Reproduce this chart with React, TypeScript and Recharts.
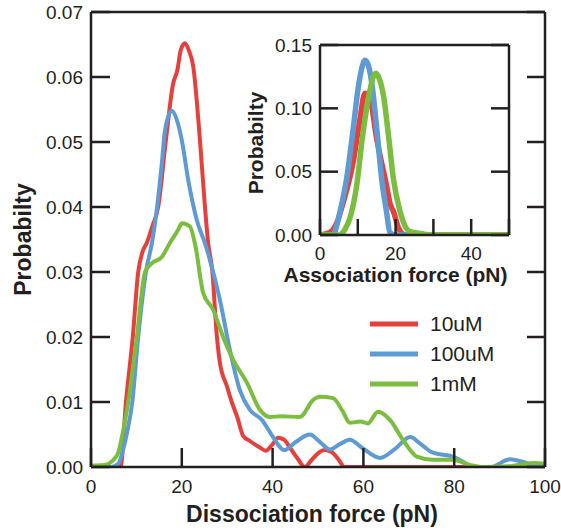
import { LineChart, Line, XAxis, YAxis, Legend } from 'recharts'

const FONT = '"Liberation Sans", Arial, sans-serif'
const INK = '#231f20'

const RED = '#e6403d'
const BLUE = '#5e9bd4'
const GREEN = '#7bbd3f'

const seriesNames = ['10uM', '100uM', '1mM']

// main panel: dissociation force distributions
const force10uM = [0, 4, 6.5, 7.7, 9.2, 10.4, 11.3, 12.3, 13.5, 14.8, 16.5, 18.1, 19, 19.8, 20.7, 21.6, 22.5, 24, 25.1, 25.8, 26.7, 27.7, 28.4, 29.9, 31, 32.3, 33.5, 35, 37.2, 38.5, 40, 41.2, 42.5, 43.8, 45.5, 47.1, 48.5, 50, 51.5, 53, 54.5, 55.8, 60, 70, 80, 90, 100]
const prob10uM = [0, 0, 0, 0.01, 0.02, 0.03, 0.033, 0.0345, 0.037, 0.04, 0.0503, 0.059, 0.061, 0.0642, 0.0652, 0.064, 0.0617, 0.0503, 0.04, 0.0345, 0.0303, 0.0203, 0.016, 0.0125, 0.01, 0.0075, 0.0048, 0.004, 0.003, 0.0025, 0.0035, 0.0045, 0.0042, 0.003, 0.0013, 0, 0.001, 0.0021, 0.0026, 0.0023, 0.0012, 0, 0, 0, 0, 0, 0]

const force100uM = [0, 4.5, 6, 7, 8, 9.1, 10.4, 12.1, 13.4, 14.1, 15.6, 16.3, 17.8, 18.9, 20, 21.4, 23.3, 25.2, 28.4, 30.6, 32.8, 35, 37.7, 40.1, 42.5, 45, 48.2, 50.5, 52.6, 55, 57, 60, 63.7, 67, 70.3, 72.5, 75.3, 79.7, 82, 84, 88, 92.3, 95, 97.4, 100]
const prob100uM = [0, 0, 0.0005, 0.0025, 0.0055, 0.01, 0.02, 0.03, 0.0344, 0.0375, 0.0467, 0.0518, 0.0548, 0.0534, 0.0503, 0.0442, 0.038, 0.0342, 0.0257, 0.018, 0.0118, 0.0088, 0.0072, 0.0046, 0.0026, 0.0038, 0.005, 0.0038, 0.0027, 0.0036, 0.0042, 0.0028, 0.0014, 0.0028, 0.0046, 0.0036, 0.0022, 0.0016, 0.0008, 0, 0, 0.0012, 0.0008, 0.0003, 0.0002]

const force1mM = [0, 3, 4.8, 6, 6.8, 8.2, 10.1, 11.9, 13.5, 15.6, 17.4, 19.2, 20, 21.8, 23, 24.7, 26.9, 29.1, 31.3, 34.4, 37.2, 39.4, 42, 46, 48.9, 50.4, 53.3, 55.5, 57, 59.3, 61, 63.2, 65.9, 68.7, 71.8, 75.3, 79.7, 83.5, 86, 92, 97.4, 100]
const prob1mM = [0.0002, 0.0003, 0.001, 0.0022, 0.0046, 0.01, 0.02, 0.03, 0.0314, 0.0323, 0.0345, 0.0365, 0.0375, 0.037, 0.034, 0.0268, 0.0242, 0.02, 0.0165, 0.0129, 0.0088, 0.0077, 0.0078, 0.0077, 0.0103, 0.0108, 0.0106, 0.0085, 0.0068, 0.007, 0.0067, 0.0085, 0.0072, 0.0042, 0.0016, 0.0011, 0.0011, 0.0003, 0, 0.0001, 0.0006, 0.0005]

// inset: association force distributions
const assocForce10uM = [0, 2.6, 4.5, 6.2, 8.8, 10.6, 11.9, 13.2, 15, 17.6, 18.6, 19.5, 20.7, 22.5, 50]
const assocProb10uM = [0, 0.002, 0.01, 0.0263, 0.058, 0.092, 0.112, 0.108, 0.076, 0.039, 0.024, 0.018, 0.006, 0, 0]

const assocForce100uM = [0, 3.5, 4.3, 5.3, 7.05, 8.8, 10.1, 11, 11.9, 12.8, 13.7, 15, 16.3, 17.6, 18.5, 20, 50]
const assocProb100uM = [0, 0, 0.006, 0.0184, 0.0447, 0.0842, 0.116, 0.131, 0.138, 0.134, 0.12, 0.0842, 0.0447, 0.0184, 0.002, 0, 0]

const assocForce1mM = [0, 5, 6.5, 7.9, 9.7, 11.3, 13.2, 14, 14.8, 15.6, 16.8, 18.1, 19.4, 21.2, 23.8, 27, 30, 50]
const assocProb1mM = [0, 0, 0.004, 0.0132, 0.039, 0.079, 0.114, 0.124, 0.1276, 0.124, 0.11, 0.079, 0.0447, 0.0184, 0.0026, 0.001, 0, 0]

const forceTicks = [0, 20, 40, 60, 80, 100]
const probTicks = [0, 0.01, 0.02, 0.03, 0.04, 0.05, 0.06, 0.07]
const assocTicks = [0, 10, 20, 30, 40, 50]
const assocProbTicks = [0, 0.05, 0.1, 0.15]

const zip = (xs: number[], ys: number[]) => xs.map((x, i) => ({ x, p: ys[i] }))

const line = { stroke: INK, strokeWidth: 2.5 }
const tickText = { fill: INK, fontSize: 19, fontFamily: FONT }
const titleText = { fill: INK, fontWeight: 'bold', fontFamily: FONT }
const blank = () => ''

function LegendBox(props: any) {
  const items = [...(props.payload || [])].sort(
    (a: any, b: any) => seriesNames.indexOf(a.value) - seriesNames.indexOf(b.value)
  )
  return (
    <div style={{ fontFamily: FONT, fontSize: 21, color: INK }}>
      {items.map((entry: any) => (
        <div key={entry.value} style={{ display: 'flex', alignItems: 'center', height: 30 }}>
          <svg width={48} height={6}>
            <line x1={0} x2={48} y1={3} y2={3} stroke={entry.color} strokeWidth={5} />
          </svg>
          <span style={{ marginLeft: 12 }}>{entry.value}</span>
        </div>
      ))}
    </div>
  )
}

export default function App() {
  return (
    <div style={{ position: 'absolute', left: 0, top: 0, width: 561, height: 531, background: '#fff' }}>
      <LineChart width={561} height={531} margin={{ top: 11, right: 15, bottom: 0, left: 0 }}>
        <XAxis
          xAxisId="b"
          dataKey="x"
          type="number"
          domain={[0, 100]}
          ticks={forceTicks}
          interval={0}
          allowDataOverflow
          height={64}
          tickSize={-19}
          tickMargin={32}
          axisLine={line}
          tickLine={line}
          tick={tickText}
          label={{ value: 'Dissociation force (pN)', position: 'insideBottom', offset: 9, dx: -6, fontSize: 23, ...titleText }}
        />
        <XAxis
          xAxisId="t"
          orientation="top"
          type="number"
          domain={[0, 100]}
          ticks={forceTicks}
          interval={0}
          allowDataOverflow
          height={1}
          tickSize={-18}
          axisLine={line}
          tickLine={line}
          tickFormatter={blank}
        />
        <YAxis
          yAxisId="l"
          type="number"
          domain={[0, 0.07]}
          ticks={probTicks}
          interval={0}
          allowDataOverflow
          width={91}
          tickSize={-19}
          tickMargin={27}
          axisLine={line}
          tickLine={line}
          tick={tickText}
          tickFormatter={(v: number) => v.toFixed(2)}
          label={{ value: 'Probabilty', angle: -90, position: 'center', dx: -23, fontSize: 23, ...titleText }}
        />
        <YAxis
          yAxisId="r"
          orientation="right"
          type="number"
          domain={[0, 0.07]}
          ticks={probTicks}
          interval={0}
          allowDataOverflow
          width={1}
          tickSize={-18}
          axisLine={line}
          tickLine={line}
          tickFormatter={blank}
        />
        <Legend
          layout="vertical"
          align="center"
          verticalAlign="middle"
          content={<LegendBox />}
          wrapperStyle={{ left: 370, top: 309, width: 170 }}
        />
        <Line xAxisId="b" yAxisId="l" data={zip(force10uM, prob10uM)} dataKey="p" name="10uM" type="monotone" stroke={RED} strokeWidth={4} dot={false} isAnimationActive={false} />
        <Line xAxisId="b" yAxisId="l" data={zip(force100uM, prob100uM)} dataKey="p" name="100uM" type="monotone" stroke={BLUE} strokeWidth={4} dot={false} isAnimationActive={false} />
        <Line xAxisId="b" yAxisId="l" data={zip(force1mM, prob1mM)} dataKey="p" name="1mM" type="monotone" stroke={GREEN} strokeWidth={4} dot={false} isAnimationActive={false} />
      </LineChart>

      <div style={{ position: 'absolute', left: 230, top: 30 }}>
        <LineChart width={300} height={270} margin={{ top: 14, right: 20, bottom: 0, left: 0 }}>
          <XAxis
            xAxisId="b"
            dataKey="x"
            type="number"
            domain={[0, 50]}
            ticks={assocTicks}
            interval={0}
            allowDataOverflow
            height={65}
            tickSize={-16}
            tickMargin={28}
            axisLine={line}
            tickLine={line}
            tick={tickText}
            tickFormatter={(v: number) => (v % 20 === 0 && v < 50 ? String(v) : '')}
            label={{ value: 'Association force (pN)', position: 'insideBottom', offset: 18, dx: -19, fontSize: 21, ...titleText }}
          />
          <XAxis
            xAxisId="t"
            orientation="top"
            type="number"
            domain={[0, 50]}
            ticks={assocTicks}
            interval={0}
            allowDataOverflow
            height={1}
            tickSize={-10}
            axisLine={line}
            tickLine={line}
            tickFormatter={blank}
          />
          <YAxis
            yAxisId="l"
            type="number"
            domain={[0, 0.15]}
            ticks={assocProbTicks}
            interval={0}
            allowDataOverflow
            width={90}
            tickSize={-18}
            tickMargin={26}
            axisLine={line}
            tickLine={line}
            tick={tickText}
            tickFormatter={(v: number) => v.toFixed(2)}
            label={{ value: 'Probabilty', angle: -90, position: 'center', dx: -19, dy: 3, fontSize: 21, ...titleText }}
          />
          <YAxis
            yAxisId="r"
            orientation="right"
            type="number"
            domain={[0, 0.15]}
            ticks={assocProbTicks}
            interval={0}
            allowDataOverflow
            width={1}
            tickSize={-18}
            axisLine={line}
            tickLine={line}
            tickFormatter={blank}
          />
          <Line xAxisId="b" yAxisId="l" data={zip(assocForce10uM, assocProb10uM)} dataKey="p" name="10uM" type="monotone" stroke={RED} strokeWidth={5.5} dot={false} isAnimationActive={false} />
          <Line xAxisId="b" yAxisId="l" data={zip(assocForce100uM, assocProb100uM)} dataKey="p" name="100uM" type="monotone" stroke={BLUE} strokeWidth={5.5} dot={false} isAnimationActive={false} />
          <Line xAxisId="b" yAxisId="l" data={zip(assocForce1mM, assocProb1mM)} dataKey="p" name="1mM" type="monotone" stroke={GREEN} strokeWidth={5.5} dot={false} isAnimationActive={false} />
        </LineChart>
      </div>
    </div>
  )
}
